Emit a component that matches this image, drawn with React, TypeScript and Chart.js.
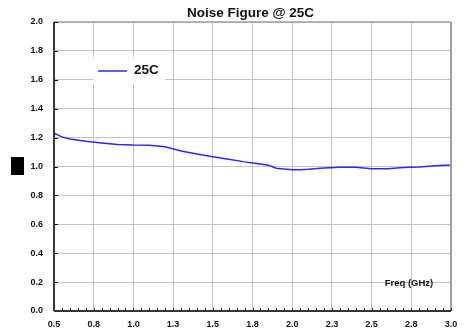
import React, { useEffect, useRef } from "react";
import { Chart, registerables } from "chart.js";

Chart.register(...registerables);

const chartTitle = "Noise Figure @ 25C";
const seriesName = "25C";
const xAxisTitle = "Freq (GHz)";

const freqGHz = [0.5, 0.55, 0.6, 0.7, 0.8, 0.9, 1.0, 1.1, 1.2, 1.3, 1.4, 1.5, 1.6, 1.7, 1.75, 1.8, 1.85, 1.9, 1.95, 2.0, 2.05, 2.1, 2.2, 2.3, 2.4, 2.5, 2.6, 2.7, 2.8, 2.9, 3.0];
const noiseFigure = [1.23, 1.205, 1.19, 1.175, 1.163, 1.153, 1.148, 1.147, 1.137, 1.107, 1.087, 1.068, 1.05, 1.032, 1.025, 1.018, 1.008, 0.988, 0.982, 0.978, 0.978, 0.981, 0.99, 0.994, 0.994, 0.985, 0.985, 0.993, 0.996, 1.005, 1.01];

const xTickLabels = ["0.5", "0.8", "1.0", "1.3", "1.5", "1.8", "2.0", "2.3", "2.5", "2.8", "3.0"];
const yTickLabels = ["0.0", "0.2", "0.4", "0.6", "0.8", "1.0", "1.2", "1.4", "1.6", "1.8", "2.0"];

const FONT = "'Liberation Sans', Arial, sans-serif";

const decor = {
  id: "decor",
  beforeDatasetsDraw(chart: any) {
    const { ctx, chartArea: a } = chart;
    ctx.save();
    // legend box (white, covers gridlines)
    const lx = a.left + 39;
    const ly = a.top + 35;
    ctx.fillStyle = "#ffffff";
    ctx.fillRect(lx, ly, 72, 27);
    ctx.strokeStyle = "#2a2aff";
    ctx.lineWidth = 1.5;
    ctx.beginPath();
    ctx.moveTo(lx + 5, ly + 14);
    ctx.lineTo(lx + 34, ly + 14);
    ctx.stroke();
    ctx.fillStyle = "#111";
    ctx.font = `bold 13.5px ${FONT}`;
    ctx.textBaseline = "middle";
    ctx.textAlign = "left";
    ctx.fillText(chart.data.datasets[0].label, lx + 41, ly + 13.5);
    // x axis title inside plot
    ctx.font = `bold 9.5px ${FONT}`;
    ctx.textAlign = "center";
    ctx.fillText(xAxisTitle, a.left + 355, a.top + 261);
    ctx.restore();
  },
  afterDraw(chart: any) {
    const { ctx, chartArea: a, scales } = chart;
    const x = scales.x;
    const y = scales.y;
    ctx.save();
    // title
    ctx.fillStyle = "#111";
    ctx.font = `bold 13.5px ${FONT}`;
    ctx.textAlign = "center";
    ctx.textBaseline = "middle";
    ctx.fillText(chartTitle, (a.left + a.right) / 2 - 2, 13);
    // top & right frame
    ctx.strokeStyle = "#a0a0a0";
    ctx.lineWidth = 1.5;
    ctx.beginPath();
    ctx.moveTo(a.left, a.top);
    ctx.lineTo(a.right, a.top);
    ctx.stroke();
    ctx.lineWidth = 2;
    ctx.beginPath();
    ctx.moveTo(a.right, a.top);
    ctx.lineTo(a.right, a.bottom);
    ctx.stroke();
    // left axis
    ctx.strokeStyle = "#000";
    ctx.lineWidth = 1.5;
    ctx.beginPath();
    ctx.moveTo(a.left, a.top);
    ctx.lineTo(a.left, a.bottom);
    ctx.stroke();
    // y ticks (inside)
    ctx.lineWidth = 1;
    for (let v = 0; v <= 2.0001; v += 0.2) {
      const py = Math.round(y.getPixelForValue(v)) + 0.5;
      ctx.beginPath();
      ctx.moveTo(a.left, py);
      ctx.lineTo(a.left + 4, py);
      ctx.stroke();
    }
    // bottom axis
    ctx.strokeStyle = "#333";
    ctx.lineWidth = 2;
    ctx.beginPath();
    ctx.moveTo(a.left, a.bottom);
    ctx.lineTo(a.right, a.bottom);
    ctx.stroke();
    // minor ticks on x axis
    ctx.lineWidth = 1;
    for (let i = 0; i <= 50; i++) {
      const px = Math.round(x.getPixelForValue(0.5 + i * 0.05)) + 0.5;
      ctx.beginPath();
      ctx.moveTo(px, a.bottom);
      ctx.lineTo(px, a.bottom - 3);
      ctx.stroke();
    }
    // black marker left of y axis
    ctx.fillStyle = "#000";
    ctx.fillRect(11, 157, 13, 18);
    ctx.restore();
  },
};

export default function App() {
  const ref = useRef<HTMLCanvasElement | null>(null);

  useEffect(() => {
    if (!ref.current) return;
    const chart = new Chart(ref.current, {
      type: "line",
      data: {
        datasets: [
          {
            label: seriesName,
            data: freqGHz.map((f, i) => ({ x: f, y: noiseFigure[i] })),
            borderColor: "#2a2aff",
            borderWidth: 1.5,
            pointRadius: 0,
            tension: 0,
            fill: false,
          },
        ],
      },
      options: {
        animation: false,
        responsive: true,
        maintainAspectRatio: false,
        layout: { padding: { left: 0, right: 15, top: 22, bottom: 0 } },
        plugins: {
          legend: { display: false },
          title: { display: false },
          tooltip: { enabled: false },
        },
        scales: {
          x: {
            type: "linear",
            min: 0.5,
            max: 3.0,
            afterBuildTicks: (s: any) => {
              s.ticks = xTickLabels.map((_, i) => ({ value: 0.5 + i * 0.25 }));
            },
            afterFit: (s: any) => {
              s.height = 20;
            },
            grid: { color: "#c4c4c4", lineWidth: 1, drawTicks: false },
            border: { display: false },
            ticks: {
              padding: 8,
              maxRotation: 0,
              autoSkip: false,
              color: "#111",
              font: { family: FONT, size: 9, weight: "bold" },
              callback: (_v: any, i: number) => xTickLabels[i],
            },
          },
          y: {
            type: "linear",
            min: 0,
            max: 2,
            afterBuildTicks: (s: any) => {
              s.ticks = yTickLabels.map((_, i) => ({ value: i * 0.2 }));
            },
            afterFit: (s: any) => {
              s.width = 54;
            },
            grid: { color: "#c4c4c4", lineWidth: 1, drawTicks: false },
            border: { display: false },
            ticks: {
              padding: 11,
              autoSkip: false,
              color: "#111",
              font: { family: FONT, size: 9, weight: "bold" },
              callback: (_v: any, i: number) => yTickLabels[i],
            },
          },
        },
      },
      plugins: [decor],
    } as any);
    return () => chart.destroy();
  }, []);

  return (
    <div style={{ position: "absolute", left: 0, top: 0, width: 466, height: 331, background: "#fff" }}>
      <canvas ref={ref} />
    </div>
  );
}
